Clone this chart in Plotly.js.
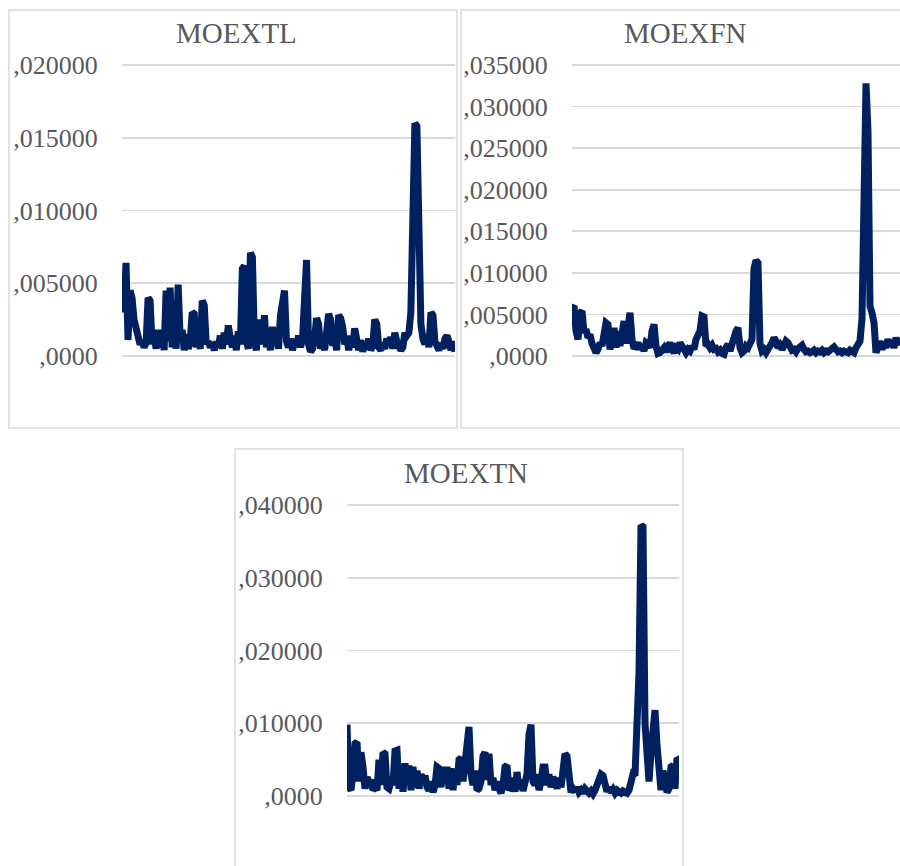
<!DOCTYPE html>
<html>
<head>
<meta charset="utf-8">
<script src="https://cdn.plot.ly/plotly-3.0.1.min.js"></script>
<style>
  html, body { margin: 0; padding: 0; background: #ffffff; }
  #chart { width: 900px; height: 866px; }
</style>
</head>
<body>
<div id="chart"></div>
<script>
// ---- data ----
const titles = ["MOEXTL", "MOEXFN", "MOEXTN"];

const moextl = [
  0.0052, 0.0030, 0.0064, 0.0011, 0.0045, 0.0040, 0.0025, 0.0018, 0.0012, 0.0008,
  0.0010, 0.0006, 0.0009, 0.0040, 0.0038, 0.0008, 0.0015, 0.0005, 0.0018, 0.0006,
  0.0017, 0.0004, 0.0045, 0.0010, 0.0047, 0.0006, 0.0020, 0.0005, 0.0049, 0.0012,
  0.0018, 0.0004, 0.0015, 0.0005, 0.0010, 0.0030, 0.0029, 0.0006, 0.0012, 0.0005,
  0.0038, 0.0035, 0.0008, 0.0010, 0.0006, 0.0009, 0.0004, 0.0010, 0.0006, 0.0014,
  0.0005, 0.0016, 0.0008, 0.0021, 0.0012, 0.0006, 0.0014, 0.0004, 0.0017, 0.0008,
  0.0060, 0.0062, 0.0010, 0.0005, 0.0071, 0.0068, 0.0010, 0.0004, 0.0025, 0.0018,
  0.0008, 0.0028, 0.0006, 0.0012, 0.0004, 0.0020, 0.0008, 0.0015, 0.0005, 0.0028,
  0.0040, 0.0045, 0.0010, 0.0006, 0.0012, 0.0004, 0.0010, 0.0007, 0.0014, 0.0006,
  0.0012, 0.0055, 0.0066, 0.0008, 0.0003, 0.0005, 0.0012, 0.0026, 0.0022, 0.0005,
  0.0010, 0.0004, 0.0015, 0.0029, 0.0025, 0.0007, 0.0012, 0.0004, 0.0028, 0.0026,
  0.0020, 0.0008, 0.0014, 0.0004, 0.0012, 0.0006, 0.0019, 0.0008, 0.0004, 0.0011,
  0.0003, 0.0008, 0.0005, 0.0012, 0.0004, 0.0007, 0.0025, 0.0022, 0.0006, 0.0004,
  0.0009, 0.0005, 0.0012, 0.0008, 0.0013, 0.0005, 0.0016, 0.0010, 0.0005, 0.0004,
  0.0006, 0.0016, 0.0014, 0.0016, 0.0030, 0.0130, 0.0160, 0.0158, 0.0060, 0.0022,
  0.0012, 0.0008, 0.0015, 0.0006, 0.0030, 0.0028, 0.0010, 0.0007, 0.0004, 0.0009,
  0.0005, 0.0012, 0.0014, 0.0010, 0.0004, 0.0010, 0.0003
];

const moexfn = [
  0.0058, 0.0060, 0.0030, 0.0020, 0.0052, 0.0054, 0.0028, 0.0032, 0.0022, 0.0026,
  0.0015, 0.0010, 0.0004, 0.0008, 0.0016, 0.0012, 0.0022, 0.0040, 0.0038, 0.0008,
  0.0020, 0.0034, 0.0010, 0.0030, 0.0012, 0.0035, 0.0042, 0.0015, 0.0040, 0.0052,
  0.0020, 0.0009, 0.0012, 0.0016, 0.0008, 0.0012, 0.0006, 0.0016, 0.0014, 0.0010,
  0.0030, 0.0038, 0.0012, 0.0003, 0.0004, 0.0006, 0.0010, 0.0005, 0.0012, 0.0016,
  0.0008, 0.0004, 0.0010, 0.0008, 0.0016, 0.0012, 0.0005, 0.0004, 0.0008, 0.0006,
  0.0012, 0.0008, 0.0020, 0.0025, 0.0030, 0.0048, 0.0047, 0.0012, 0.0014, 0.0010,
  0.0013, 0.0008, 0.0009, 0.0005, 0.0007, 0.0003, 0.0002, 0.0010, 0.0014, 0.0006,
  0.0018, 0.0022, 0.0030, 0.0034, 0.0010, 0.0004, 0.0006, 0.0012, 0.0010, 0.0016,
  0.0020, 0.0105, 0.0115, 0.0112, 0.0015, 0.0006, 0.0008, 0.0004, 0.0010, 0.0012,
  0.0016, 0.0022, 0.0018, 0.0010, 0.0013, 0.0008, 0.0012, 0.0018, 0.0016, 0.0010,
  0.0007, 0.0008, 0.0005, 0.0009, 0.0011, 0.0013, 0.0008, 0.0005, 0.0006, 0.0004,
  0.0005, 0.0007, 0.0004, 0.0006, 0.0005, 0.0007, 0.0004, 0.0006, 0.0005, 0.0008,
  0.0009, 0.0011, 0.0008, 0.0005, 0.0006, 0.0004, 0.0006, 0.0005, 0.0004, 0.0007,
  0.0005, 0.0004, 0.0010, 0.0016, 0.0018, 0.0045, 0.0200, 0.0328, 0.0270, 0.0060,
  0.0052, 0.0040, 0.0004, 0.0012, 0.0018, 0.0008, 0.0015, 0.0010, 0.0020, 0.0012,
  0.0018, 0.0010, 0.0022, 0.0014, 0.0019
];

const moextn = [
  0.0098, 0.0012, 0.0008, 0.0030, 0.0072, 0.0074, 0.0020, 0.0060, 0.0040, 0.0010,
  0.0026, 0.0018, 0.0022, 0.0008, 0.0012, 0.0008, 0.0050, 0.0015, 0.0060, 0.0058,
  0.0012, 0.0010, 0.0020, 0.0015, 0.0062, 0.0063, 0.0010, 0.0028, 0.0006, 0.0045,
  0.0020, 0.0042, 0.0008, 0.0040, 0.0012, 0.0035, 0.0010, 0.0030, 0.0020, 0.0028,
  0.0012, 0.0008, 0.0020, 0.0005, 0.0015, 0.0040, 0.0038, 0.0012, 0.0040, 0.0020,
  0.0040, 0.0010, 0.0038, 0.0008, 0.0035, 0.0015, 0.0050, 0.0052, 0.0020, 0.0048,
  0.0090, 0.0095, 0.0030, 0.0015, 0.0035, 0.0008, 0.0010, 0.0020, 0.0055, 0.0060,
  0.0022, 0.0058, 0.0015, 0.0025, 0.0008, 0.0020, 0.0010, 0.0004, 0.0015, 0.0040,
  0.0042, 0.0008, 0.0012, 0.0025, 0.0006, 0.0033, 0.0010, 0.0022, 0.0007, 0.0018,
  0.0030, 0.0085, 0.0098, 0.0020, 0.0015, 0.0030, 0.0008, 0.0020, 0.0040, 0.0040,
  0.0015, 0.0030, 0.0012, 0.0025, 0.0022, 0.0010, 0.0025, 0.0012, 0.0040, 0.0058,
  0.0055, 0.0015, 0.0005, 0.0010, 0.0006, 0.0012, 0.0005, 0.0008, 0.0004, 0.0010,
  0.0006, 0.0004, 0.0007, 0.0003, 0.0008, 0.0015, 0.0022, 0.0030, 0.0028, 0.0010,
  0.0006, 0.0012, 0.0005, 0.0009, 0.0004, 0.0008, 0.0006, 0.0004, 0.0007, 0.0005,
  0.0004, 0.0008, 0.0020, 0.0030, 0.0028, 0.0100, 0.0170, 0.0372, 0.0370, 0.0100,
  0.0030, 0.0020, 0.0060, 0.0100, 0.0118, 0.0070, 0.0030, 0.0008, 0.0035, 0.0012,
  0.0005, 0.0010, 0.0040, 0.0042, 0.0010, 0.0052, 0.0050
];

const tlTickVals = [0, 0.005, 0.010, 0.015, 0.020];
const tlTickText = [",0000", ",005000", ",010000", ",015000", ",020000"];
const fnTickVals = [0, 0.005, 0.010, 0.015, 0.020, 0.025, 0.030, 0.035];
const fnTickText = [",0000", ",005000", ",010000", ",015000", ",020000", ",025000", ",030000", ",035000"];
const tnTickVals = [0, 0.010, 0.020, 0.030, 0.040];
const tnTickText = [",0000", ",010000", ",020000", ",030000", ",040000"];

// ---- style ----
const W = 900, H = 866;
const lineColor = "#002060";
const gridColor = "#d9d9d9";
const textColor = "#595959";
const serif = "Liberation Serif, Times New Roman, serif";
const px = (x) => x / W;
const py = (y) => 1 - y / H;
const idx = (arr) => arr.map((_, i) => i);

function trace(vals, xa, ya) {
  return {
    type: "scatter", mode: "lines", x: idx(vals), y: vals,
    xaxis: xa, yaxis: ya,
    line: { color: lineColor, width: 7, shape: "linear" },
    hoverinfo: "skip", showlegend: false
  };
}

function xaxis(domain, n, anchor) {
  return {
    domain: domain, range: [0, n - 1], anchor: anchor,
    showgrid: false, zeroline: false, showline: false,
    showticklabels: false, ticks: "", fixedrange: true
  };
}
function yaxis(domain, range, tv, tt, anchor) {
  return {
    domain: domain, range: range, anchor: anchor,
    tickmode: "array", tickvals: tv, ticktext: tt,
    showgrid: true, gridcolor: gridColor, gridwidth: 1.8,
    zeroline: false, showline: false,
    ticks: "outside", ticklen: 18, tickcolor: "rgba(0,0,0,0)",
    tickfont: { family: serif, size: 26, color: textColor },
    fixedrange: true
  };
}

const data = [
  trace(moextl, "x", "y"),
  trace(moexfn, "x2", "y2"),
  trace(moextn, "x3", "y3")
];

const topDom = [py(362), py(62)];
const botDom = [py(802), py(502)];

const layout = {
  width: W, height: H,
  margin: { l: 0, r: 0, t: 0, b: 0 },
  paper_bgcolor: "#ffffff", plot_bgcolor: "rgba(0,0,0,0)",
  showlegend: false,
  xaxis: xaxis([px(122), px(455)], moextl.length, "y"),
  yaxis: yaxis(topDom, [-6 / 14600, 0.020 + 3 / 14600], tlTickVals, tlTickText, "x"),
  xaxis2: xaxis([px(572), 1], moexfn.length, "y2"),
  yaxis2: yaxis(topDom, [-6 / 8320, 0.035 + 3 / 8320], fnTickVals, fnTickText, "x2"),
  xaxis3: xaxis([px(347), px(679)], moextn.length, "y3"),
  yaxis3: yaxis(botDom, [-6 / 7275, 0.040 + 3 / 7275], tnTickVals, tnTickText, "x3"),
  shapes: [
    { type: "rect", xref: "paper", yref: "paper", x0: px(9), x1: px(457), y0: py(428), y1: py(10),
      line: { color: gridColor, width: 1.5 }, fillcolor: "rgba(0,0,0,0)", layer: "below" },
    { type: "rect", xref: "paper", yref: "paper", x0: px(461), x1: px(912), y0: py(428), y1: py(10),
      line: { color: gridColor, width: 1.5 }, fillcolor: "rgba(0,0,0,0)", layer: "below" },
    { type: "rect", xref: "paper", yref: "paper", x0: px(235), x1: px(683), y0: py(880), y1: py(449),
      line: { color: gridColor, width: 1.5 }, fillcolor: "rgba(0,0,0,0)", layer: "below" }
  ],
  annotations: [
    { text: titles[0], xref: "paper", yref: "paper", x: px(237), y: py(33),
      xanchor: "center", yanchor: "middle", showarrow: false,
      font: { family: serif, size: 29, color: textColor } },
    { text: titles[1], xref: "paper", yref: "paper", x: px(685), y: py(33),
      xanchor: "center", yanchor: "middle", showarrow: false,
      font: { family: serif, size: 29, color: textColor } },
    { text: titles[2], xref: "paper", yref: "paper", x: px(466), y: py(473),
      xanchor: "center", yanchor: "middle", showarrow: false,
      font: { family: serif, size: 29, color: textColor } }
  ]
};

Plotly.newPlot("chart", data, layout, { displayModeBar: false, staticPlot: true });
</script>
</body>
</html>
